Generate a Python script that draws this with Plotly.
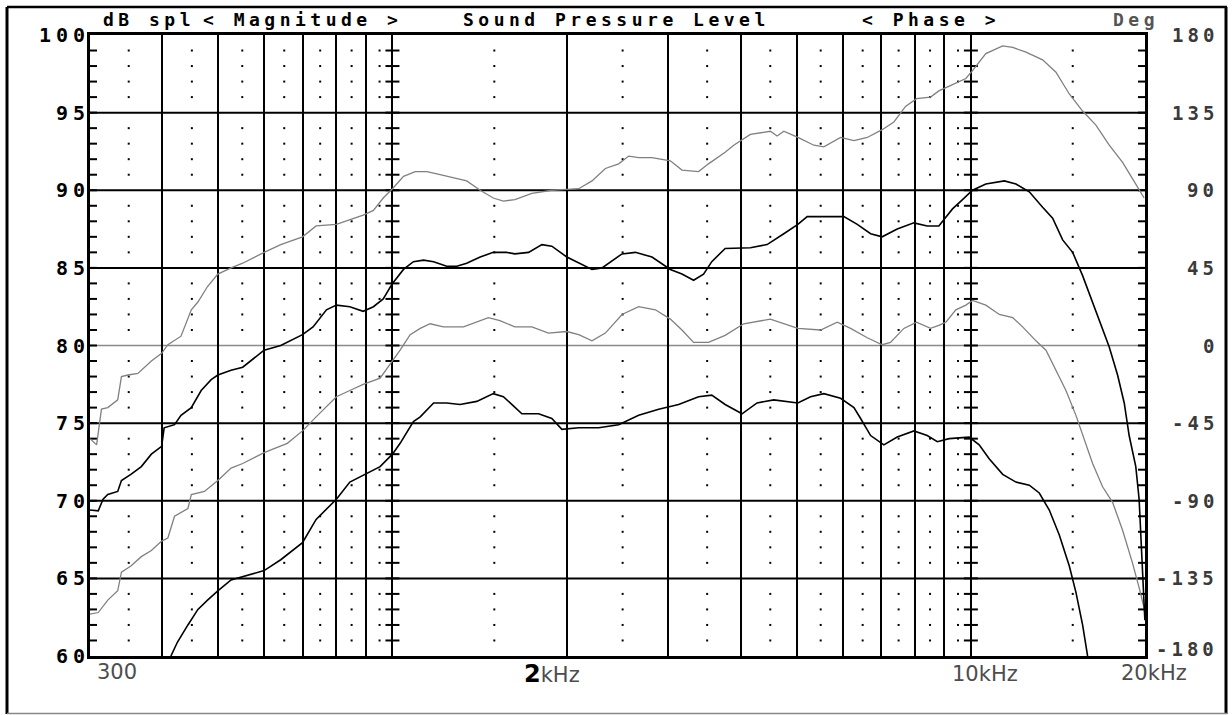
import math
import plotly.graph_objects as go

# ---------------- data ----------------
freq_a = [300, 308, 314, 322, 335, 340, 349, 363, 383, 399,
          409, 431, 449, 461, 479, 499, 526, 551, 600, 641,
          699, 738, 800, 844, 890, 927, 964, 1000, 1045, 1095,
          1147, 1209, 1275, 1344, 1418, 1494, 1555, 1628, 1742, 1886,
          2002, 2099, 2213, 2334, 2461, 2561, 2665, 2810, 3023, 3166,
          3383, 3518, 3760, 3890, 4157, 4502, 4624, 4749, 5022, 5353,
          5570, 5953, 6278, 6620, 7025, 7360, 7710, 8055, 8517, 8803,
          9295, 9802, 10065, 10613, 11350, 11810, 12452, 13305, 14031, 14797,
          15601, 16450, 17346, 18293, 19280, 19930]
spl_a = [74.0, 73.6, 75.9, 76.0, 76.5, 78.0, 78.1, 78.2, 79.0, 79.5,
         80.05, 80.6, 82.3, 82.8, 83.8, 84.6, 85.0, 85.3, 86.0, 86.5,
         87.0, 87.7, 87.8, 88.1, 88.4, 88.7, 89.5, 90.1, 90.9, 91.2,
         91.2, 91.0, 90.8, 90.6, 90.0, 89.5, 89.3, 89.4, 89.8, 90.0,
         90.05, 90.1, 90.6, 91.4, 91.7, 92.2, 92.1, 92.1, 91.9, 91.3,
         91.2, 91.7, 92.45, 92.9, 93.6, 93.8, 93.5, 93.8, 93.4, 92.9,
         92.8, 93.4, 93.2, 93.4, 93.9, 94.4, 95.4, 95.9, 96.0, 96.4,
         96.8, 97.2, 97.7, 98.8, 99.3, 99.2, 98.9, 98.4, 97.6, 96.2,
         95.1, 94.2, 92.9, 91.8, 90.4, 89.5]

freq_b = [300, 310, 316, 322, 335, 340, 353, 368, 383, 399,
          403, 420, 431, 449, 467, 486, 499, 526, 551, 600,
          641, 699, 729, 769, 800, 844, 890, 927, 964, 1000,
          1045, 1087, 1132, 1178, 1241, 1292, 1344, 1418, 1494, 1575,
          1628, 1719, 1813, 1886, 2002, 2099, 2213, 2303, 2494, 2630,
          2810, 3023, 3166, 3316, 3450, 3565, 3760, 4157, 4443, 4749,
          5022, 5212, 5570, 6032, 6362, 6709, 7025, 7459, 7970, 8404,
          8803, 8931, 9295, 9673, 10065, 10613, 11426, 11966, 12618, 13305,
          13847, 14410, 14995, 15601, 16235, 16893, 17346, 17932, 18413, 18777,
          19280, 19537, 19667, 19797, 19930, 19990]
spl_b = [69.4, 69.35, 70.1, 70.4, 70.6, 71.3, 71.7, 72.2, 73.0, 73.5,
         74.7, 74.9, 75.5, 76.0, 77.1, 77.8, 78.1, 78.4, 78.6, 79.7,
         80.0, 80.7, 81.2, 82.3, 82.6, 82.5, 82.2, 82.5, 83.0, 84.0,
         84.9, 85.4, 85.5, 85.4, 85.1, 85.1, 85.3, 85.7, 86.0, 86.0,
         85.9, 86.0, 86.5, 86.4, 85.7, 85.3, 84.9, 85.0, 85.9, 86.0,
         85.7, 84.9, 84.6, 84.2, 84.6, 85.4, 86.25, 86.3, 86.5, 87.2,
         87.8, 88.3, 88.3, 88.3, 87.8, 87.2, 87.0, 87.5, 87.9, 87.7,
         87.7, 88.0, 88.8, 89.4, 90.0, 90.4, 90.6, 90.4, 89.9, 88.9,
         88.2, 86.8, 86.0, 84.5, 82.8, 81.1, 79.9, 78.1, 76.3, 74.2,
         72.2, 70.1, 68.1, 65.4, 63.6, 62.3]

freq_c = [300, 310, 322, 335, 340, 353, 368, 383, 399, 409,
          420, 443, 449, 473, 499, 526, 551, 600, 658, 699,
          738, 800, 844, 890, 952, 1000, 1031, 1073, 1117, 1162,
          1225, 1327, 1399, 1465, 1534, 1628, 1742, 1861, 2002, 2099,
          2213, 2334, 2494, 2665, 2848, 3023, 3166, 3316, 3518, 3760,
          4048, 4502, 5022, 5497, 5874, 6195, 6620, 7025, 7262, 7659,
          8055, 8517, 8803, 9051, 9419, 9802, 10065, 10613, 11200, 11810,
          12288, 12957, 13484, 14031, 14601, 15193, 15601, 16235, 16893, 17579,
          18293, 19026, 19537, 19930]
spl_c = [62.7, 62.8, 63.6, 64.2, 65.4, 65.8, 66.4, 66.8, 67.4, 67.6,
         69.0, 69.5, 70.4, 70.6, 71.3, 72.1, 72.4, 73.1, 73.7, 74.5,
         75.4, 76.7, 77.1, 77.5, 77.9, 79.0, 79.7, 80.7, 81.1, 81.4,
         81.2, 81.2, 81.5, 81.8, 81.6, 81.2, 81.2, 80.8, 80.9, 80.7,
         80.3, 80.8, 82.0, 82.5, 82.3, 81.7, 81.0, 80.2, 80.2, 80.65,
         81.4, 81.7, 81.1, 81.0, 81.5, 81.1, 80.5, 80.05, 80.2, 81.1,
         81.5, 81.1, 81.3, 81.5, 82.3, 82.6, 82.9, 82.6, 82.0, 81.8,
         81.2, 80.3, 79.7, 78.4, 77.1, 75.5, 74.2, 72.4, 70.9, 69.9,
         68.1, 66.0, 64.4, 63.1]

freq_d = [414, 425, 443, 461, 479, 499, 526, 551, 600, 641,
          699, 738, 800, 844, 898, 952, 1000, 1031, 1087, 1117,
          1178, 1241, 1309, 1399, 1494, 1555, 1620, 1674, 1789, 1886,
          1963, 2099, 2273, 2461, 2665, 2886, 3124, 3383, 3565, 3760,
          4021, 4269, 4563, 5022, 5282, 5570, 5953, 6278, 6447, 6709,
          7072, 7459, 7970, 8404, 8750, 9172, 9933, 10336, 10755, 11350,
          11966, 12618, 13130, 13663, 14219, 14797, 15193, 15601, 15914]
spl_d = [60.0, 60.9, 62.0, 63.0, 63.6, 64.2, 64.9, 65.1, 65.5, 66.2,
         67.3, 68.8, 70.1, 71.2, 71.7, 72.2, 73.0, 73.7, 75.1, 75.4,
         76.3, 76.3, 76.2, 76.4, 76.9, 76.7, 76.1, 75.6, 75.6, 75.3,
         74.6, 74.7, 74.7, 74.9, 75.5, 75.9, 76.2, 76.7, 76.8, 76.2,
         75.6, 76.3, 76.5, 76.3, 76.7, 76.9, 76.6, 76.0, 75.3, 74.2,
         73.6, 74.1, 74.5, 74.2, 73.8, 74.0, 74.1, 73.6, 72.7, 71.7,
         71.2, 71.0, 70.5, 69.4, 67.8, 65.8, 64.1, 62.0, 60.0]

spl_ticks = [100, 95, 90, 85, 80, 75, 70, 65, 60]
phase_ticks = [180, 135, 90, 45, 0, -45, -90, -135, -180]
spl_grid = [65, 70, 75, 80, 85, 90, 95]
major_freqs = [400, 500, 600, 700, 800, 900, 1000, 2000, 3000, 4000,
               5000, 6000, 7000, 8000, 9000, 10000]
minor_freqs = [350, 450, 550, 650, 750, 850, 950, 1500, 2500, 3500,
               4500, 5500, 6500, 7500, 8500, 9500, 15000]
tick_freqs = [300, 1000, 10000, 20000]
x_labels = ["300", "2kHz", "10kHz", "20kHz"]
titles = ["dB spl", "< Magnitude >", "Sound Pressure Level", "< Phase >", "Deg"]

# ---------------- geometry ----------------
W, H = 1232, 715
L, R, T, B = 90, 87, 35, 59
PW = W - L - R
PH = H - T - B
FMIN, FMAX = 300, 20000


def pxx(px):
    return (px - L) / PW


def pxy(py):
    return (H - B - py) / PH


def esc(s):
    return s.replace("&", "&amp;").replace("<", "&lt;").replace(">", "&gt;")


def spaced(s, ls):
    if len(s) < 2:
        return esc(s)
    return f'<span style="letter-spacing:{ls}px">{esc(s[:-1])}</span>{esc(s[-1])}'


MONO = "DejaVu Sans Mono"
GRAY = "#808080"

fig = go.Figure()

# dotted sub-grid
dot_rows = [d for d in range(61, 100) if d % 5 != 0]
fig.add_trace(go.Scatter(
    x=[f for f in minor_freqs for d in dot_rows],
    y=[d for f in minor_freqs for d in dot_rows],
    mode="markers", hoverinfo="skip", showlegend=False,
    marker=dict(symbol="square", size=2, color="black", line=dict(width=0))))

# 1 dB tick marks on the frame and on the 1k / 10k lines
tick_rows = list(range(61, 100))
fig.add_trace(go.Scatter(
    x=[f for f in tick_freqs for d in tick_rows],
    y=[d for f in tick_freqs for d in tick_rows],
    mode="markers", hoverinfo="skip", showlegend=False,
    marker=dict(symbol="line-ew", size=10, color="black",
                line=dict(width=2, color="black"))))

for fx, sy, col, wd in [(freq_a, spl_a, GRAY, 1.3), (freq_c, spl_c, GRAY, 1.3),
                        (freq_b, spl_b, "black", 1.6), (freq_d, spl_d, "black", 1.6)]:
    fig.add_trace(go.Scatter(x=fx, y=sy, mode="lines", showlegend=False,
                             hoverinfo="skip", line=dict(color=col, width=wd)))

shapes = []
for v in spl_grid:
    shapes.append(dict(type="line", xref="paper", yref="y", x0=0, x1=1, y0=v, y1=v,
                       layer="below",
                       line=dict(color="#8a8a8a" if v == 80 else "black",
                                 width=1.5 if v == 80 else 2)))
# outer picture frame
shapes += [
    dict(type="line", xref="paper", yref="paper", x0=pxx(7), x1=pxx(1227), y0=pxy(7), y1=pxy(7),
         line=dict(color="black", width=2.5)),
    dict(type="line", xref="paper", yref="paper", x0=pxx(7), x1=pxx(7), y0=pxy(7), y1=pxy(714),
         line=dict(color="black", width=3)),
    dict(type="line", xref="paper", yref="paper", x0=pxx(1226), x1=pxx(1226), y0=pxy(7), y1=pxy(714),
         line=dict(color="black", width=3)),
    dict(type="line", xref="paper", yref="paper", x0=pxx(7), x1=pxx(1227), y0=pxy(713.5), y1=pxy(713.5),
         line=dict(color="#888888", width=1.5)),
]

ann = []
# header texts
title_left = [102, 202, 462, 861, 1112]
title_col = ["black", "black", "black", "black", "#555555"]
for t, xl, c in zip(titles, title_left, title_col):
    ann.append(dict(text="<b>" + spaced(t, 4.5) + "</b>", xref="paper", yref="paper",
                    x=pxx(xl), y=pxy(20), xanchor="left", yanchor="middle", align="left",
                    showarrow=False, borderpad=0,
                    font=dict(family=MONO, size=18, color=c)))
# left dB labels
for v in spl_ticks:
    ann.append(dict(text="<b>" + spaced(str(v), 5) + "</b>", xref="paper", yref="y",
                    x=pxx(86), y=v, xanchor="right", yanchor="middle", showarrow=False,
                    borderpad=0, font=dict(family=MONO, size=20, color="black")))
# right phase labels
for v, s in zip(phase_ticks, spl_ticks):
    ann.append(dict(text="<b>" + spaced(str(v), 4) + "</b>", xref="paper", yref="y",
                    x=pxx(1215), y=s, xanchor="right", yanchor="middle", showarrow=False,
                    yshift=7 if v == -180 else 0, borderpad=0,
                    font=dict(family=MONO, size=19, color="#3a3a3a")))
# frequency labels
xl_text = [x_labels[0],
           '<span style="font-size:24px;font-weight:bold;color:#000">2</span>kHz',
           x_labels[2], x_labels[3]]
xl_pos = [(96, 672, "left"), (581, 674, "right"), (1019, 674, "right"), (1188, 673, "right")]
for t, (xp, yp, anc) in zip(xl_text, xl_pos):
    ann.append(dict(text=t, xref="paper", yref="paper", x=pxx(xp), y=pxy(yp),
                    xanchor=anc, yanchor="middle", showarrow=False, borderpad=0,
                    font=dict(family="DejaVu Sans", size=21, color="#4d4d4d")))

fig.update_layout(
    width=W, height=H,
    margin=dict(l=L, r=R, t=T, b=B, autoexpand=False),
    paper_bgcolor="white", plot_bgcolor="white", showlegend=False,
    xaxis=dict(type="log", range=[math.log10(FMIN), math.log10(FMAX)],
               tickmode="array", tickvals=major_freqs, showticklabels=False, ticks="",
               showgrid=True, gridcolor="black", gridwidth=2,
               showline=True, linecolor="black", linewidth=3, mirror=True, zeroline=False),
    yaxis=dict(range=[60, 100], showticklabels=False, ticks="", showgrid=False,
               showline=True, linecolor="black", linewidth=3, mirror=True, zeroline=False),
    shapes=shapes, annotations=ann,
)

fig.write_html("out.html", config={"displayModeBar": False},
               post_script="document.body.style.margin='0';document.body.style.overflow='hidden';")
